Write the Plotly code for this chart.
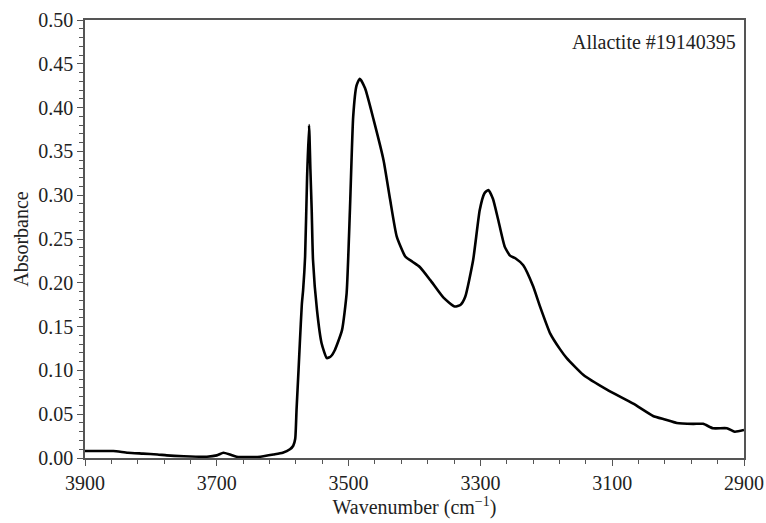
import plotly.graph_objects as go

wavenumber = [3900, 3880, 3857, 3835, 3812, 3790, 3776, 3750, 3715, 3700, 3690, 3680, 3670, 3650,
              3634, 3614, 3600, 3589, 3584, 3581, 3579, 3576, 3574, 3571, 3569, 3566, 3563, 3560,
              3558, 3556, 3554, 3548, 3541, 3533, 3527, 3521, 3510, 3503, 3498, 3493, 3488, 3483,
              3475, 3462, 3447, 3437, 3427, 3414, 3403, 3392, 3376, 3356, 3339, 3330, 3323, 3311,
              3301, 3294, 3288, 3281, 3273, 3263, 3255, 3247, 3235, 3220, 3210, 3194, 3179, 3169,
              3144, 3108, 3068, 3038, 3020, 3002, 2977, 2962, 2947, 2926, 2914, 2900]
absorbance = [0.008, 0.008, 0.008, 0.006, 0.005, 0.004, 0.003, 0.002, 0.0015, 0.003, 0.006, 0.004,
              0.0015, 0.001, 0.0015, 0.004, 0.006, 0.010, 0.014, 0.022, 0.055, 0.10, 0.131, 0.175,
              0.192, 0.23, 0.32, 0.380, 0.33, 0.283, 0.226, 0.169, 0.131, 0.114, 0.116, 0.123,
              0.146, 0.188, 0.283, 0.390, 0.425, 0.433, 0.422, 0.386, 0.340, 0.295, 0.253, 0.230,
              0.224, 0.218, 0.203, 0.183, 0.173, 0.175, 0.184, 0.226, 0.283, 0.302, 0.306, 0.296,
              0.272, 0.241, 0.231, 0.228, 0.220, 0.196, 0.174, 0.142, 0.124, 0.114, 0.095, 0.078,
              0.062, 0.048, 0.044, 0.040, 0.039, 0.039, 0.034, 0.034, 0.030, 0.032]

x_ticks = [3900, 3700, 3500, 3300, 3100, 2900]
y_ticks = [0.00, 0.05, 0.10, 0.15, 0.20, 0.25, 0.30, 0.35, 0.40, 0.45, 0.50]
label_text = "Allactite #19140395"

fig = go.Figure()
fig.add_trace(go.Scatter(x=wavenumber, y=absorbance, mode="lines",
                         line=dict(color="black", width=2.6, shape="spline", smoothing=0.5),
                         showlegend=False, hoverinfo="skip"))

axis_color = "#555555"
font = dict(family="Liberation Serif, Times New Roman, serif", size=20, color="#222222")

fig.update_layout(
    width=766, height=523,
    margin=dict(l=85, r=22, t=20, b=65),
    paper_bgcolor="white", plot_bgcolor="white",
    font=font,
    xaxis=dict(range=[3900, 2900], tickvals=x_ticks, ticktext=[str(v) for v in x_ticks],
               automargin=False,
               ticks="outside", ticklen=6, tickcolor=axis_color, tickwidth=1,
               showline=True, linecolor=axis_color, linewidth=1.5, mirror=True,
               showgrid=False, zeroline=False,
               minor=dict(dtick=40, tick0=3900, ticks="outside", ticklen=4, tickcolor=axis_color, showgrid=False),
               title=dict(text="Wavenumber (cm<sup>−1</sup>)", standoff=6, font=dict(size=20))),
    yaxis=dict(range=[0, 0.5], tickvals=y_ticks, tickformat=".2f",
               automargin=False,
               ticks="outside", ticklen=6, tickcolor=axis_color, tickwidth=1,
               showline=True, linecolor=axis_color, linewidth=1.5, mirror=True,
               showgrid=False, zeroline=False,
               minor=dict(dtick=0.01, tick0=0, ticks="outside", ticklen=4, tickcolor=axis_color, showgrid=False),
               title=dict(text="Absorbance", standoff=4, font=dict(size=20))),
    annotations=[dict(text=label_text, xref="paper", yref="paper", x=1, y=0.95,
                      xanchor="right", yanchor="middle", xshift=-6, showarrow=False,
                      font=dict(size=20))],
)

fig.write_html("out.html", config={"displayModeBar": False},
               post_script="document.body.style.margin='0';")
